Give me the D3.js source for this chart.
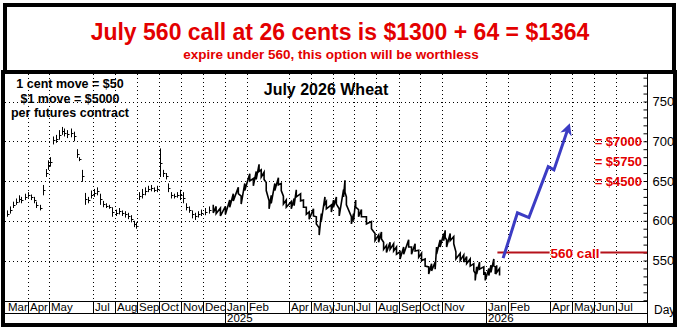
<!DOCTYPE html>
<html>
<head>
<meta charset="utf-8">
<script src="https://cdn.jsdelivr.net/npm/d3@7"></script>
<style>
  html, body { margin: 0; padding: 0; background: #fff; }
  svg { display: block; font-family: "Liberation Sans", Arial, sans-serif; }
</style>
</head>
<body>
<svg id="chart" width="678" height="331"></svg>
<script>
// ---- July 2026 wheat futures, daily price history (cents / bushel) ----

// 2024: thinly traded deferred contract, scattered sessions
const earlyDates = ["2024-03-03","2024-03-07","2024-03-11","2024-03-15","2024-03-19","2024-03-22","2024-03-28",
  "2024-04-01","2024-04-05","2024-04-09","2024-04-12","2024-04-18","2024-04-22","2024-04-26","2024-04-29",
  "2024-05-02","2024-05-06","2024-05-10","2024-05-14","2024-05-18","2024-05-22","2024-05-26","2024-05-31",
  "2024-06-04","2024-06-08","2024-06-12","2024-06-16","2024-06-20","2024-06-24","2024-06-28",
  "2024-07-03","2024-07-07","2024-07-11","2024-07-15","2024-07-19","2024-07-24","2024-07-28",
  "2024-08-02","2024-08-06","2024-08-10","2024-08-14","2024-08-19","2024-08-23","2024-08-27","2024-08-30",
  "2024-09-03","2024-09-07","2024-09-11","2024-09-16","2024-09-20","2024-09-24","2024-09-28",
  "2024-10-02","2024-10-07","2024-10-11","2024-10-14","2024-10-18","2024-10-22","2024-10-26","2024-10-30",
  "2024-11-04","2024-11-08","2024-11-12","2024-11-16","2024-11-20","2024-11-25","2024-11-29","2024-12-05","2024-12-10"];
const earlyHigh = [613,618,624,628,632,630,634, 636,633,630,624,620,645,665,676,
  680,706,708,714,718,716,714,716, 712,690,680,664,635,630,638,
  640,642,634,625,622,620,617, 614,616,613,612,610,607,600,598,
  636,640,642,644,645,642,644, 691,664,660,647,636,634,636,639,
  636,622,618,613,610,612,614,616,618];
const earlyLow = [605,609,616,620,623,622,626, 629,626,622,616,613,632,655,664,
  668,696,698,702,708,706,704,705, 700,679,675,649,620,622,628,
  630,632,620,617,616,615,605, 606,608,606,604,602,598,592,590,
  626,628,632,636,637,636,636, 655,655,652,636,628,628,629,626,
  622,613,610,603,601,604,606,607,609];

// Dec 2024 onward: active daily trade
const mainDates = ["2024-12-16","2024-12-20","2024-12-26","2025-01-02","2025-01-08","2025-01-13","2025-01-20",
  "2025-01-24","2025-01-29","2025-02-05","2025-02-10","2025-02-14","2025-02-18","2025-02-21","2025-02-25",
  "2025-02-28","2025-03-04","2025-03-07","2025-03-12","2025-03-17","2025-03-21","2025-03-24","2025-03-28",
  "2025-04-04","2025-04-08","2025-04-11","2025-04-17","2025-04-21","2025-04-25","2025-04-29","2025-05-05",
  "2025-05-09","2025-05-13","2025-05-16","2025-05-21","2025-05-23","2025-05-30","2025-06-02","2025-06-06",
  "2025-06-10","2025-06-16","2025-06-18","2025-06-20","2025-06-27","2025-06-30","2025-07-03","2025-07-07",
  "2025-07-11","2025-07-18","2025-07-25","2025-07-30","2025-08-04","2025-08-08","2025-08-11","2025-08-15",
  "2025-08-20","2025-08-25","2025-08-29","2025-09-03","2025-09-08","2025-09-15","2025-09-19","2025-09-24",
  "2025-09-29","2025-10-03","2025-10-08","2025-10-13","2025-10-17","2025-10-22","2025-10-24","2025-10-29",
  "2025-11-03","2025-11-05","2025-11-07","2025-11-12","2025-11-17","2025-11-20","2025-11-26","2025-12-01",
  "2025-12-05","2025-12-10","2025-12-15","2025-12-17","2025-12-19","2025-12-23","2025-12-29","2025-12-31",
  "2026-01-05","2026-01-08","2026-01-12","2026-01-14","2026-01-16","2026-01-20"];
const mainHigh = [620,618,616,618,626,634,642, 631,647,659,653,662,671,664,661,
  648,625,632,647,654,647,631,626, 624,628,639,634,626,617,611,615,
  605,591,609,630,624,620,626,630, 615,639,651,630,605,609,626,614,
  614,605,599,584,582,586,573,569, 573,571,567,561,567,576,567,571,
  563,559,552,542,546,548,567,576, 584,588,576,584,580,561,559,557,
  555,552,546,534,542,548,542,534, 540,544,552,542,544,540];
const mainLow = [610,609,606,608,617,625,634, 621,638,650,644,652,662,655,652,
  638,615,622,638,645,638,621,617, 615,619,630,625,617,608,602,606,
  596,582,600,621,615,611,617,621, 606,630,636,620,596,600,617,605,
  605,596,590,575,573,577,564,560, 564,562,558,552,558,567,558,562,
  554,550,543,533,537,539,558,567, 575,579,567,575,571,552,550,548,
  546,543,537,525,533,539,533,525, 531,535,543,533,535,531];

// Projected rally path and the 560 call strike
const projDates = ["2026-01-25","2026-02-14","2026-03-02","2026-03-29","2026-04-06","2026-04-26"];
const projValues = [553, 610, 604, 668, 664, 717];
const strikeStart = "2026-01-17";
const strikePrice = 560;
const strikeLabel = "560 call";

// Value of the call at target prices
const payoffLevels = [700, 675, 650];
const payoffLabels = ["= $7000", "= $5750", "= $4500"];

// Axes
const priceTicks = [550, 600, 650, 700, 750];
const monthDates = ["2024-03-01","2024-04-01","2024-05-01","2024-07-01","2024-08-01","2024-09-01","2024-10-01",
  "2024-11-01","2024-12-01","2025-01-01","2025-02-01","2025-04-01","2025-05-01","2025-06-01","2025-07-01",
  "2025-08-01","2025-09-01","2025-10-01","2025-11-01","2026-01-01","2026-02-01","2026-04-01","2026-05-01",
  "2026-06-01","2026-07-01"];
const monthNames = ["Mar","Apr","May","Jul","Aug","Sep","Oct","Nov","Dec","Jan","Feb","Apr","May","Jun","Jul",
  "Aug","Sep","Oct","Nov","Jan","Feb","Apr","May","Jun","Jul"];
const yearDates = ["2025-01-01", "2026-01-01"];
const yearNames = ["2025", "2026"];

// Text
const headline = "July 560 call at 26 cents is $1300 + 64 = $1364";
const subline = "expire under 560, this option will be worthless";
const chartTitle = "July 2026 Wheat";
const noteLines = ["1 cent move = $50", "$1 move = $5000", "per futures contract"];

// ---- drawing ----
const parse = d3.utcParse("%Y-%m-%d");
const svg = d3.select("#chart");
const RED = "#e30000";

const plot = { left: 5, right: 647, top: 74, bottom: 301 };
const x = d3.scaleUtc()
  .domain([parse("2024-03-01"), parse("2026-08-14")])
  .range([5.7, plot.right]);
const y = d3.scaleLinear().domain([550, 750]).range([260.5, 101.5]);

svg.append("rect").attr("width", 678).attr("height", 331).attr("fill", "#fff");

// headline banner
svg.append("text").attr("x", 340).attr("y", 40)
  .attr("text-anchor", "middle").attr("fill", RED)
  .attr("font-size", 23).attr("font-weight", "bold").text(headline);
svg.append("text").attr("x", 331).attr("y", 59)
  .attr("text-anchor", "middle").attr("fill", RED)
  .attr("font-size", 13.5).attr("font-weight", "bold").text(subline);

// gridlines
const grid = svg.append("g").attr("stroke", "#000").attr("stroke-width", 1)
  .attr("stroke-dasharray", "1,3");
grid.selectAll("line.h").data(priceTicks).join("line").attr("class", "h")
  .attr("x1", plot.left).attr("x2", plot.right)
  .attr("y1", d => Math.round(y(d)) + 0.5).attr("y2", d => Math.round(y(d)) + 0.5);
grid.selectAll("line.v").data(monthDates.slice(1)).join("line").attr("class", "v")
  .attr("x1", d => Math.round(x(parse(d))) + 0.5).attr("x2", d => Math.round(x(parse(d))) + 0.5)
  .attr("y1", plot.top).attr("y2", plot.bottom);

// right price axis: labels and minor ticks
const axisG = svg.append("g").attr("transform", `translate(${plot.right + 0.5},0)`);
axisG.call(d3.axisRight(y).tickValues(priceTicks).tickSize(0).tickPadding(5).tickFormat(d3.format("d")))
  .call(g => g.select(".domain").remove())
  .call(g => g.selectAll("text").attr("font-size", 13).attr("font-family", "Liberation Sans, Arial, sans-serif").attr("fill", "#000"));
axisG.append("g")
  .call(d3.axisLeft(y).tickValues(d3.range(500, 790, 10)).tickSize(4).tickFormat(""))
  .call(g => g.select(".domain").remove())
  .call(g => g.selectAll("line").attr("stroke", "#000"));

// price history: scattered 2024 sessions (thin high-low bars with close tick)
const early = earlyDates.map((d, i) => ({ t: parse(d), hi: earlyHigh[i], lo: earlyLow[i] }));
const eg = svg.append("g").attr("stroke", "#000").attr("stroke-width", 1);
eg.selectAll("line.bar").data(early).join("line").attr("class", "bar")
  .attr("x1", d => Math.round(x(d.t)) + 0.5).attr("x2", d => Math.round(x(d.t)) + 0.5)
  .attr("y1", d => y(d.hi)).attr("y2", d => y(d.lo));
eg.selectAll("line.tick").data(early).join("line").attr("class", "tick")
  .attr("x1", d => Math.round(x(d.t)) + 0.5).attr("x2", d => Math.round(x(d.t)) + 2.5)
  .attr("y1", d => Math.round(y((d.hi + d.lo) / 2)) + 0.5).attr("y2", d => Math.round(y((d.hi + d.lo) / 2)) + 0.5);

// price history: daily high-low bars from Dec 2024
const main = mainDates.map((d, i) => ({ t: parse(d), hi: mainHigh[i], lo: mainLow[i] }));
const zig = [];
main.forEach(d => { zig.push([d.t, d.hi]); zig.push([d.t, d.lo]); });
svg.append("path").datum(zig)
  .attr("fill", "none").attr("stroke", "#000").attr("stroke-width", 1.6).attr("stroke-linejoin", "miter")
  .attr("d", d3.line().x(d => x(d[0])).y(d => y(d[1])));

// strike line with label on a white patch
const sy = y(strikePrice);
svg.append("line").attr("x1", x(parse(strikeStart))).attr("x2", plot.right)
  .attr("y1", sy).attr("y2", sy).attr("stroke", "#b5121b").attr("stroke-width", 2);
const strikePatch = svg.append("rect").attr("fill", "#fff");
const strikeText = svg.append("text").attr("x", 575).attr("y", sy + 5)
  .attr("text-anchor", "middle").attr("fill", RED)
  .attr("font-size", 13.5).attr("font-weight", "bold").text(strikeLabel);
const sb = strikeText.node().getBBox();
strikePatch.attr("x", sb.x - 1).attr("y", sy - 2).attr("width", sb.width + 2).attr("height", 4);

// projected rally arrow
const proj = projDates.map((d, i) => [x(parse(d)), y(projValues[i])]);
svg.append("defs").append("marker").attr("id", "head")
  .attr("viewBox", "0 0 10 10").attr("refX", 6).attr("refY", 5)
  .attr("markerWidth", 4).attr("markerHeight", 4).attr("orient", "auto")
  .append("path").attr("d", "M0,0 L10,5 L0,10 L3,5 Z").attr("fill", "#3c3cc4");
svg.append("path").datum(proj)
  .attr("fill", "none").attr("stroke", "#3c3cc4").attr("stroke-width", 3)
  .attr("stroke-linejoin", "miter").attr("marker-end", "url(#head)")
  .attr("d", d3.line());

// payoff labels
svg.append("g").selectAll("text").data(payoffLevels).join("text")
  .attr("x", 642).attr("y", d => y(d) + 4.5).attr("text-anchor", "end")
  .attr("fill", RED).attr("font-size", 13).attr("font-weight", "bold")
  .text((d, i) => payoffLabels[i]);

// chart title and contract notes
svg.append("text").attr("x", 326).attr("y", 95).attr("text-anchor", "middle")
  .attr("font-size", 16).attr("font-weight", "bold").attr("fill", "#000").text(chartTitle);
svg.append("g").selectAll("text").data(noteLines).join("text")
  .attr("x", 70).attr("y", (d, i) => 88 + i * 14.5).attr("text-anchor", "middle")
  .attr("font-size", 12.5).attr("font-weight", "bold").attr("fill", "#000").text(d => d);

// date axis rows
const rowTop = plot.bottom, rowMid = 313, rowBot = 323;
const xa = svg.append("g").attr("stroke", "#000").attr("stroke-width", 1);
xa.append("line").attr("x1", plot.left).attr("x2", plot.right).attr("y1", rowTop + 0.5).attr("y2", rowTop + 0.5);
xa.append("line").attr("x1", plot.left).attr("x2", plot.right).attr("y1", rowMid + 0.5).attr("y2", rowMid + 0.5);
xa.selectAll("line.m").data(monthDates.slice(1)).join("line").attr("class", "m")
  .attr("x1", d => Math.round(x(parse(d))) + 0.5).attr("x2", d => Math.round(x(parse(d))) + 0.5)
  .attr("y1", rowTop).attr("y2", rowMid);
xa.selectAll("line.yr").data(yearDates).join("line").attr("class", "yr")
  .attr("x1", d => Math.round(x(parse(d))) + 0.5).attr("x2", d => Math.round(x(parse(d))) + 0.5)
  .attr("y1", rowMid).attr("y2", rowBot);
svg.append("g").selectAll("text").data(monthDates).join("text")
  .attr("x", d => Math.round(x(parse(d))) + 2).attr("y", rowMid - 2)
  .attr("font-size", 11.5).attr("fill", "#000").text((d, i) => monthNames[i]);
svg.append("g").selectAll("text").data(yearDates).join("text")
  .attr("x", d => Math.round(x(parse(d))) + 2).attr("y", rowBot - 1)
  .attr("font-size", 11.5).attr("fill", "#000").text((d, i) => yearNames[i]);
svg.append("text").attr("x", 654).attr("y", 314).attr("font-size", 12).attr("fill", "#000").text("Day");

// frames
svg.append("line").attr("x1", plot.right + 0.5).attr("x2", plot.right + 0.5)
  .attr("y1", plot.top).attr("y2", 324).attr("stroke", "#000");
svg.append("rect").attr("x", 5).attr("y", 5).attr("width", 669).attr("height", 67)
  .attr("fill", "none").attr("stroke", "#000").attr("stroke-width", 4);
svg.append("rect").attr("x", 3).attr("y", 72).attr("width", 672).attr("height", 253)
  .attr("fill", "none").attr("stroke", "#000").attr("stroke-width", 4);
</script>
</body>
</html>
